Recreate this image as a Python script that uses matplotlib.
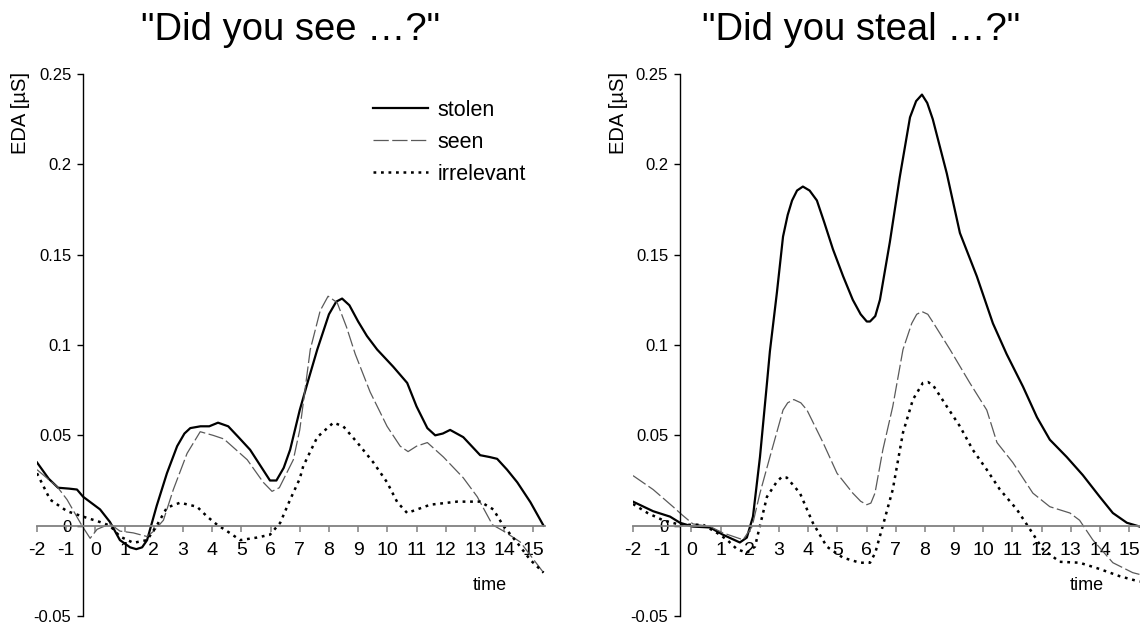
import matplotlib
matplotlib.use("Agg")
import matplotlib.pyplot as plt

plt.rcParams['font.family'] = ['Liberation Sans', 'DejaVu Sans']
plt.rcParams['lines.scale_dashes'] = False

# ---------------- data ----------------
titles = ['"Did you see …?"', '"Did you steal …?"']
series_names = ["stolen", "seen", "irrelevant"]
x_ticks = list(range(-2, 16))
y_ticks = [-0.05, 0, 0.05, 0.1, 0.15, 0.2, 0.25]
y_tick_labels = ["-0.05", "0", "0.05", "0.1", "0.15", "0.2", "0.25"]

# Left panel: "Did you see ...?"
see_stolen_x = [-2, -1.6, -1.28, -0.9, -0.63, -0.42, 0.16, 0.5, 0.84, 1.19, 1.4, 1.6, 1.77, 2.1, 2.45,
                2.8, 3.05, 3.25, 3.6, 3.9, 4.2, 4.55, 4.9, 5.3, 5.7, 5.98, 6.2, 6.45, 6.67, 7.0, 7.3,
                7.6, 8.0, 8.25, 8.45, 8.7, 9.0, 9.3, 9.65, 10.2, 10.68, 11.0, 11.37, 11.64, 11.9, 12.15,
                12.6, 13.18, 13.5, 13.76, 14.1, 14.45, 14.9, 15.35]
see_stolen_y = [0.035, 0.026, 0.021, 0.0205, 0.020, 0.016, 0.009, 0.002, -0.008, -0.012, -0.013, -0.012,
                -0.008, 0.011, 0.029, 0.044, 0.051, 0.054, 0.055, 0.055, 0.057, 0.055, 0.049, 0.042,
                0.032, 0.025, 0.025, 0.032, 0.042, 0.064, 0.081, 0.0975, 0.117, 0.124, 0.1257, 0.122,
                0.113, 0.105, 0.0975, 0.088, 0.079, 0.066, 0.054, 0.050, 0.051, 0.053, 0.049, 0.039,
                0.038, 0.037, 0.031, 0.024, 0.013, 0.0]

see_seen_x = [-2, -1.31, -0.97, -0.46, -0.18, 0.06, 0.5, 0.84, 1.3, 1.77, 2.0, 2.33, 2.67, 3.14, 3.59,
              4.03, 4.4, 5.2, 5.75, 6.05, 6.3, 6.78, 7.0, 7.36, 7.7, 7.97, 8.28, 8.6, 8.9, 9.41, 9.99,
              10.44, 10.71, 11.0, 11.37, 11.92, 12.6, 13.08, 13.28, 13.6, 13.98, 14.55, 15.35]
see_seen_y = [0.031, 0.0216, 0.0144, 0.0, -0.007, -0.002, 0.001, -0.003, -0.004, -0.006, -0.003, 0.003,
              0.020, 0.040, 0.052, 0.050, 0.048, 0.0365, 0.024, 0.019, 0.021, 0.0365, 0.053, 0.0975,
              0.119, 0.127, 0.1235, 0.110, 0.095, 0.074, 0.055, 0.044, 0.041, 0.044, 0.046, 0.038,
              0.0265, 0.016, 0.010, 0.0005, -0.003, -0.009, -0.026]

see_irr_x = [-2, -1.55, -0.97, -0.42, 0.16, 0.5, 0.84, 1.3, 1.77, 2.1, 2.45, 2.9, 3.48, 3.83, 4.17, 4.6,
             4.96, 5.53, 5.98, 6.33, 6.67, 7.0, 7.12, 7.6, 8.15, 8.49, 8.97, 9.52, 9.99, 10.34, 10.68,
             11.02, 11.47, 12.39, 13.18, 13.63, 13.97, 14.45, 14.9, 15.35]
see_irr_y = [0.029, 0.0144, 0.008, 0.005, 0.002, 0.0, -0.006, -0.0095, -0.008, 0.0, 0.010, 0.0127,
             0.0105, 0.005, 0.0005, -0.004, -0.008, -0.0066, -0.005, 0.0016, 0.0144, 0.026, 0.033,
             0.049, 0.057, 0.055, 0.046, 0.035, 0.024, 0.013, 0.007, 0.009, 0.0116, 0.0133, 0.0133,
             0.009, 0.0, -0.0095, -0.019, -0.026]

# Right panel: "Did you steal ...?"
steal_stolen_x = [-2, -1.31, -0.73, -0.39, 0.05, 0.64, 1.08, 1.66, 1.9, 2.11, 2.35, 2.59, 2.69, 2.93,
                  3.14, 3.3, 3.45, 3.62, 3.82, 4.05, 4.3, 4.55, 4.85, 5.2, 5.53, 5.8, 6.01, 6.12, 6.3,
                  6.46, 6.8, 7.14, 7.49, 7.7, 7.9, 8.08, 8.27, 8.75, 9.2, 9.78, 10.33, 10.8, 11.36,
                  11.84, 12.28, 12.86, 13.41, 13.99, 14.44, 14.92, 15.36]
steal_stolen_y = [0.0133, 0.008, 0.005, 0.0016, -0.0005, -0.001, -0.005, -0.0093, -0.0066, 0.005,
                  0.038, 0.079, 0.0965, 0.129, 0.160, 0.172, 0.180, 0.1855, 0.1877, 0.1855, 0.180,
                  0.168, 0.153, 0.138, 0.125, 0.117, 0.113, 0.113, 0.116, 0.125, 0.157, 0.193, 0.226,
                  0.235, 0.2386, 0.234, 0.225, 0.195, 0.162, 0.138, 0.112, 0.095, 0.077, 0.060, 0.0476,
                  0.038, 0.028, 0.016, 0.007, 0.0016, -0.0005]

steal_seen_x = [-2, -1.31, -0.63, -0.32, 0.05, 0.64, 1.08, 1.77, 2.08, 2.35, 2.69, 3.14, 3.3, 3.51, 3.75,
                3.96, 4.51, 4.99, 5.53, 5.8, 6.01, 6.15, 6.29, 6.56, 6.9, 7.25, 7.55, 7.72, 7.9, 8.1, 8.3,
                8.86, 9.54, 10.12, 10.47, 11.01, 11.7, 12.28, 12.97, 13.3, 13.75, 14.44, 15.12, 15.36]
steal_seen_y = [0.0277, 0.020, 0.0105, 0.006, 0.001, -0.0005, -0.004, -0.0078, -0.0005, 0.018, 0.038,
                0.064, 0.068, 0.0698, 0.068, 0.064, 0.046, 0.029, 0.018, 0.0135, 0.0116, 0.0125, 0.018,
                0.042, 0.066, 0.0975, 0.112, 0.117, 0.1185, 0.117, 0.112, 0.0975, 0.079, 0.064, 0.046,
                0.035, 0.018, 0.0105, 0.007, 0.003, -0.0078, -0.0205, -0.026, -0.027]

steal_irr_x = [-2, -1.5, -0.97, -0.39, 0.4, 0.88, 1.22, 1.56, 1.9, 2.18, 2.35, 2.59, 2.93, 3.1, 3.27,
               3.72, 4.16, 4.64, 5.19, 5.77, 6.12, 6.3, 6.56, 6.9, 7.25, 7.59, 7.93, 8.1, 8.27, 8.75,
               9.2, 9.64, 10.12, 10.57, 11.15, 11.6, 12.04, 12.62, 13.3, 13.99, 14.68, 15.36]
steal_irr_y = [0.012, 0.007, 0.003, 0.0005, 0.0005, -0.004, -0.0078, -0.013, -0.015, -0.0116, 0.0,
               0.016, 0.0244, 0.027, 0.0266, 0.018, 0.0016, -0.0116, -0.0177, -0.0205, -0.0205, -0.015,
               0.0, 0.020, 0.0515, 0.0698, 0.079, 0.0795, 0.078, 0.066, 0.055, 0.042, 0.031, 0.020,
               0.009, -0.002, -0.013, -0.020, -0.0205, -0.024, -0.028, -0.031]

panels = [
    [(see_stolen_x, see_stolen_y), (see_seen_x, see_seen_y), (see_irr_x, see_irr_y)],
    [(steal_stolen_x, steal_stolen_y), (steal_seen_x, steal_seen_y), (steal_irr_x, steal_irr_y)],
]

# ---------------- styling ----------------
W, H = 1140, 626
styles = [
    dict(color="black", lw=1.6, ls="-", solid_joinstyle="round"),
    dict(color="#5a5a5a", lw=0.9, dashes=(11, 2.5)),
    dict(color="black", lw=1.8, dashes=(2.0, 3.4), dash_capstyle="butt"),
]
axes_px = [(37, 10, 508, 542), (633, 10, 507, 542)]
xmax = [15.4, 15.37]
yaxis_x = [-0.42, -0.39]
title_x = [291, 861]
time_x = [490, 1087]
ylabel_x = [21, 618]

fig = plt.figure(figsize=(W / 100, H / 100), dpi=100)
fig.patch.set_facecolor("white")

for i in range(2):
    l, b, w, h = axes_px[i]
    ax = fig.add_axes([l / W, b / H, w / W, h / H])
    ax.set_xlim(-2, xmax[i])
    ax.set_ylim(-0.05, 0.25)
    ax.patch.set_alpha(0)
    for (xs, ys), st, name in zip(panels[i], styles, series_names):
        ax.plot(xs, ys, label=name, **st)
    ax.spines["top"].set_visible(False)
    ax.spines["right"].set_visible(False)
    ax.spines["left"].set_position(("data", yaxis_x[i]))
    ax.spines["bottom"].set_position(("data", 0))
    ax.spines["left"].set_color("black")
    ax.spines["left"].set_linewidth(1.0)
    ax.spines["bottom"].set_color("#808080")
    ax.spines["bottom"].set_linewidth(1.3)
    ax.set_xticks(x_ticks)
    ax.set_xticklabels([str(t) for t in x_ticks])
    ax.set_yticks(y_ticks)
    ax.set_yticklabels(y_tick_labels)
    ax.tick_params(axis="x", direction="out", length=4.5, width=1.1, color="#808080",
                   labelsize=14, pad=7)
    ax.tick_params(axis="y", direction="out", length=4.5, width=1.0, color="black",
                   labelsize=12, pad=4)
    ax.set_zorder(1)

    fig.text(title_x[i] / W, 1 - 30 / H, titles[i], fontsize=27.5, ha="center", va="center")
    fig.text(time_x[i] / W, 1 - 586 / H, "time", fontsize=13, ha="center", va="center")
    fig.text(ylabel_x[i] / W, 1 - 72 / H, "EDA [µS]", fontsize=14.5, rotation=90,
             ha="center", va="top")

    if i == 0:
        ax.legend(loc="upper left", bbox_to_anchor=(373 / W, 1 - 100 / H),
                  bbox_transform=fig.transFigure, frameon=False, fontsize=15.5,
                  handlelength=2.55, handletextpad=0.45, labelspacing=0.5,
                  borderpad=0, borderaxespad=0)

fig.savefig("out.png", dpi=100, facecolor="white")
